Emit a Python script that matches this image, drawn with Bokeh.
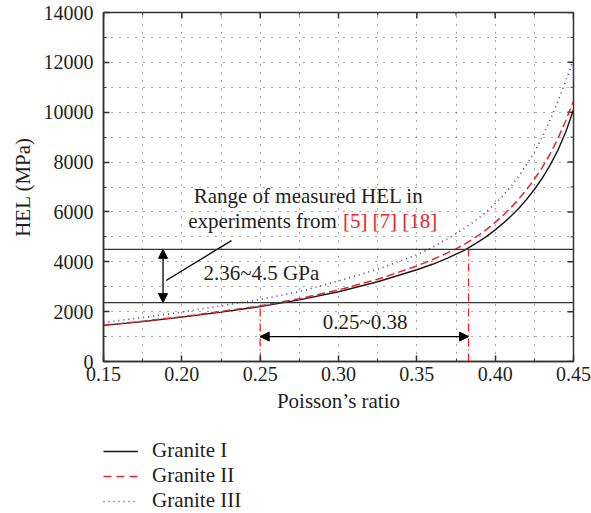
import math
from bokeh.plotting import figure
from bokeh.layouts import column
from bokeh.models import (Range1d, FixedTicker, NumeralTickFormatter,
                          Span, Arrow, NormalHead, Legend, LegendItem)
from bokeh.core.properties import value
from bokeh.embed import file_html
from bokeh.resources import INLINE

# ---------------- data ----------------
nu = [0.15, 0.175, 0.20, 0.225, 0.25, 0.275, 0.30, 0.325, 0.35, 0.36, 0.37, 0.375,
      0.38, 0.385, 0.39, 0.395, 0.40, 0.405, 0.41, 0.415, 0.42, 0.425, 0.43, 0.435,
      0.44, 0.445, 0.45]
hel_granite_1 = [1450, 1600, 1780, 1980, 2200, 2470, 2800, 3200, 3680, 3900, 4160, 4310,
                 4450, 4640, 4830, 5040, 5280, 5540, 5830, 6140, 6500, 6900, 7350, 7870,
                 8470, 9200, 10100]
hel_granite_2 = [1460, 1615, 1800, 2005, 2235, 2520, 2870, 3300, 3830, 4090, 4370, 4520,
                 4690, 4880, 5090, 5320, 5580, 5860, 6170, 6510, 6890, 7310, 7780, 8320,
                 8940, 9650, 10450]
hel_granite_3 = [1565, 1760, 1985, 2230, 2490, 2800, 3230, 3700, 4280, 4580, 4940, 5130,
                 5330, 5545, 5780, 6040, 6330, 6655, 7020, 7430, 7890, 8410, 9000, 9670,
                 10430, 11250, 12100]

x_ticks = [0.15, 0.20, 0.25, 0.30, 0.35, 0.40, 0.45]
x_minor = [0.175, 0.225, 0.275, 0.325, 0.375, 0.425]
y_ticks = [0, 2000, 4000, 6000, 8000, 10000, 12000, 14000]
y_minor = [1000, 3000, 5000, 7000, 9000, 11000, 13000]

hel_range = [2360, 4500]          # measured HEL range (MPa)
nu_range = [0.25, 0.383]          # corresponding Poisson's ratio range
nu_range_top = [2200, 4500]       # where the red markers meet the curve
arrow_nu = 0.188                  # x of the vertical double arrow
arrow_hel = 1000                  # y of the horizontal double arrow
leader_x = [0.190, 0.2317]
leader_y = [3250, 4850]

labels = ["Granite I", "Granite II", "Granite III"]

FONT = "Liberation Serif"
TXT = "#231f20"
AX = "#333333"
RED = "#e8262b"
BLUE = "#3a3aa8"
TICK_FS = "20px"
FS = "21px"

X0, X1 = 0.15, 0.45
Y0, Y1 = 0, 14000
NAN = float("nan")

p = figure(width=591, height=425, output_backend="svg", toolbar_location=None,
           x_range=Range1d(X0, X1), y_range=Range1d(Y0, Y1),
           min_border_left=103, min_border_right=18, min_border_top=12,
           min_border_bottom=64, background_fill_color="white",
           border_fill_color="white", outline_line_color=AX, outline_line_width=1.5)

# axes (left / bottom)
for ax in (p.xaxis[0], p.yaxis[0]):
    ax.major_tick_in = 6
    ax.major_tick_out = 0
    ax.minor_tick_in = 3
    ax.minor_tick_out = 0
    ax.axis_line_color = AX
    ax.axis_line_width = 1.5
    ax.major_tick_line_color = AX
    ax.major_tick_line_width = 1.5
    ax.minor_tick_line_color = AX
    ax.major_label_text_font = FONT
    ax.major_label_text_font_size = TICK_FS
    ax.major_label_text_color = TXT
    ax.axis_label_text_font = FONT
    ax.axis_label_text_font_size = FS
    ax.axis_label_text_font_style = "normal"
    ax.axis_label_text_color = TXT

p.xaxis[0].ticker = FixedTicker(ticks=x_ticks, minor_ticks=x_minor)
p.yaxis[0].ticker = FixedTicker(ticks=y_ticks, minor_ticks=y_minor)
p.xaxis[0].formatter = NumeralTickFormatter(format="0.00")
p.xaxis[0].axis_label = "Poisson\u2019s ratio"
p.yaxis[0].axis_label = "HEL (MPa)"
p.xaxis[0].major_label_standoff = 5
p.xaxis[0].axis_label_standoff = 5
p.yaxis[0].major_label_standoff = 10
p.yaxis[0].axis_label_standoff = 6

# inward tick marks on the top and right edges (screen-length rays)
p.ray(x=x_ticks, y=[Y1] * len(x_ticks), length=6, length_units="screen",
      angle=-math.pi / 2, line_color=AX, line_width=1.5)
p.ray(x=x_minor, y=[Y1] * len(x_minor), length=3, length_units="screen",
      angle=-math.pi / 2, line_color=AX, line_width=1)
p.ray(x=[X1] * len(y_ticks), y=y_ticks, length=6, length_units="screen",
      angle=math.pi, line_color=AX, line_width=1.5)
p.ray(x=[X1] * len(y_minor), y=y_minor, length=3, length_units="screen",
      angle=math.pi, line_color=AX, line_width=1)

# grids
p.xgrid.ticker = FixedTicker(ticks=x_ticks, minor_ticks=x_minor)
p.ygrid.ticker = FixedTicker(ticks=y_ticks, minor_ticks=y_minor)
for g in (p.xgrid[0], p.ygrid[0]):
    g.grid_line_color = "#555555"
    g.grid_line_dash = "1 7"
    g.grid_line_width = 1
    g.minor_grid_line_color = "#555555"
    g.minor_grid_line_dash = "1 7"
    g.minor_grid_line_width = 1

# measured range lines
for h in hel_range:
    p.add_layout(Span(location=h, dimension="width", line_color=AX, line_width=1.3))

# red dash-dot markers
p.segment(x0=nu_range, y0=[Y0, Y0], x1=nu_range, y1=nu_range_top,
          line_color=RED, line_dash="8 3 1 3", line_width=1.3)

# curves
r1 = p.line(nu, hel_granite_1, line_color="#1a1a1a", line_width=1.4)
r2 = p.line(nu, hel_granite_2, line_color=RED, line_width=1.5, line_dash="8 4")
r3 = p.line(nu, hel_granite_3, line_color=BLUE, line_width=1.6, line_dash="1 4")

# arrows
def head():
    return NormalHead(size=9, fill_color="black", line_color="black", line_width=1)

p.add_layout(Arrow(x_start=arrow_nu, y_start=hel_range[0], x_end=arrow_nu, y_end=hel_range[1],
                   line_color="black", line_width=1.3, start=head(), end=head()))
p.add_layout(Arrow(x_start=nu_range[0], y_start=arrow_hel, x_end=nu_range[1], y_end=arrow_hel,
                   line_color="black", line_width=1.3, start=head(), end=head()))

# leader line
p.line(leader_x, leader_y, line_color="black", line_width=1.3)

# texts
def txt(x, y, s, align, color=TXT):
    p.text(x=[x], y=[y], text=[s], text_font=value(FONT), text_font_size=FS,
           text_color=color, text_align=align, text_baseline="middle")

txt(0.2809, 6650, "Range of measured HEL in", "center")
txt(0.2990, 5650, "experiments from", "right")
txt(0.3028, 5650, "[5] [7] [18]", "left", RED)
txt(0.2138, 3570, "2.36~4.5 GPa", "left")
txt(0.317, 1575, "0.25~0.38", "center")

# ---------------- legend panel below ----------------
lg = figure(width=591, height=88, output_backend="svg", toolbar_location=None,
            x_range=Range1d(0, 1), y_range=Range1d(0, 1),
            min_border_left=0, min_border_right=0, min_border_top=0, min_border_bottom=0,
            outline_line_color=None, background_fill_color="white",
            border_fill_color="white")
lg.axis.visible = False
lg.grid.visible = False
# legend-key renderers (hold no visible data)
k1 = lg.line(x=[NAN], y=[NAN], line_color="#1a1a1a", line_width=1.4)
k2 = lg.line(x=[NAN], y=[NAN], line_color=RED, line_width=1.5, line_dash="8 5")
k3 = lg.line(x=[NAN], y=[NAN], line_color=BLUE, line_width=1.6, line_dash="1 4")

legend = Legend(items=[LegendItem(label=labels[0], renderers=[k1]),
                       LegendItem(label=labels[1], renderers=[k2]),
                       LegendItem(label=labels[2], renderers=[k3])],
                location=(0, 0), orientation="vertical",
                glyph_width=35, glyph_height=20, label_standoff=14, spacing=0,
                padding=0, margin=0, border_line_color=None,
                background_fill_alpha=0,
                label_text_font=FONT, label_text_font_size=FS, label_text_color=TXT)
lg.add_layout(legend, "center")

layout = column(p, lg, spacing=0)
open("out.html", "w").write(file_html(layout, INLINE))
